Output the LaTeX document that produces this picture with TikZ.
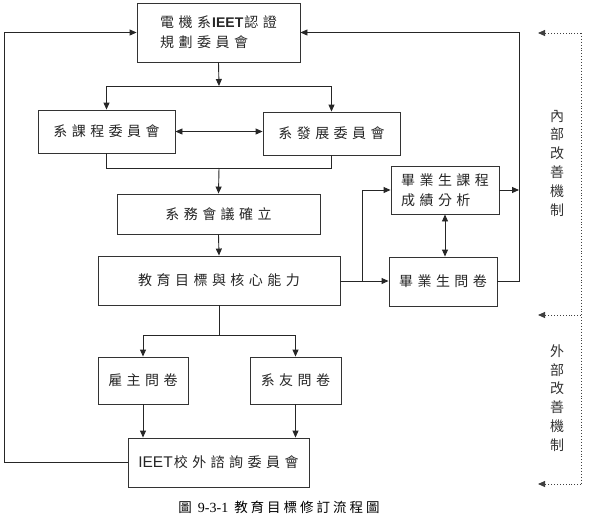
\documentclass[tikz,border=0pt]{standalone}
\usepackage{fontspec}
\setmainfont{Liberation Serif}
\setsansfont{Liberation Sans}
\newfontfamily\cjk{Noto Sans CJK TC}
\newfontfamily\cjksp[LetterSpace=32]{Noto Sans CJK TC}
\newfontfamily\cjkcap[LetterSpace=22]{Noto Sans CJK TC}
\usetikzlibrary{positioning}
\usetikzlibrary{calc}
\usetikzlibrary{arrows.meta}

\tikzset{
  box/.style={draw=black!80, line width=0.9pt, inner sep=0pt,
    font=\cjksp\fontsize{14}{20}\selectfont, text=black!85},
  link/.style={draw=black!85, line width=0.9pt},
  dotlink/.style={draw=black!75, line width=0.9pt, dotted},
  sidetext/.style={font=\cjk\fontsize{14}{18.8}\selectfont, align=center, text=black!80}
}

\begin{document}
\begin{tikzpicture}[x=1pt, y=-1pt, >={Triangle[length=7pt,width=6pt]}]
    \useasboundingbox (0,0) rectangle (590,517);

    % boxes
    \node[box, minimum width=163pt, minimum height=59pt, align=left] (plan) at (218.5,32.5)
      {電機系\kern1pt{\sffamily\bfseries\fontsize{14}{20}\selectfont IEET}\kern1pt認證\\規劃委員會};
    \node[box, minimum width=137pt, minimum height=43pt] (curric) at (106.5,131.5) {系課程委員會};
    \node[box, minimum width=137pt, minimum height=43pt] (devel) at (331.5,133.5) {系發展委員會};
    \node[box, minimum width=203pt, minimum height=40pt] (affairs) at (218.5,214) {系務會議確立};
    \node[box, minimum width=242pt, minimum height=49pt] (goals) at (219,280.5) {教育目標與核心能力};
    \node[box, minimum width=108pt, minimum height=48pt, align=left] (analysis) at (445,190)
      {畢業生課程\\成績分析};
    \node[box, minimum width=108pt, minimum height=49pt] (survey) at (443,281.5) {畢業生問卷};
    \node[box, minimum width=90pt, minimum height=47pt] (employer) at (143,380.5) {雇主問卷};
    \node[box, minimum width=91pt, minimum height=47pt] (alumni) at (295.5,380.5) {系友問卷};
    \node[box, minimum width=181pt, minimum height=49pt] (ieet) at (218.5,462.5)
      {{\sffamily\fontsize{15.5}{20}\selectfont IEET}\kern1pt校外諮詢委員會};

    % side labels
    \node[sidetext] (inner) at (557,163) {內\\部\\改\\善\\機\\制};
    \node[sidetext] (outer) at (557,398) {外\\部\\改\\善\\機\\制};
    \node[font=\cjkcap\fontsize{13.5}{16}\selectfont] (caption) at (279,507)
      {圖 {\rmfamily\fontsize{14}{16}\selectfont 9-3-1} 教育目標修訂流程圖};

    % helper points
    \coordinate (split1) at (219,86);
    \coordinate (merge1) at (219,168);
    \coordinate (split2) at (219,335);
    \coordinate (split3) at (362,281);
    \coordinate (westrail) at (4,0);
    \coordinate (eastrail) at (519,0);
    \coordinate (inTop) at (581,33);
    \coordinate (inBot) at (581,315);
    \coordinate (exBot) at (581,484);

    % connectors
    \draw[link,->] (plan.south) -- (split1);
    \draw[link,->] (split1) -| (curric.north);
    \draw[link,->] (split1) -| (devel.north);
    \draw[link,<->] (curric.east) -- (curric.east -| devel.west);
    \draw[link] (curric.south) |- (merge1);
    \draw[link] (devel.south) |- (merge1);
    \draw[link,->] (merge1) -- (affairs.north);
    \draw[link,->] (affairs.south) -- (goals.north);
    \draw[link] (goals.south) -- (split2);
    \draw[link,->] (split2) -| (employer.north);
    \draw[link,->] (split2) -| (alumni.north);
    \draw[link,->] (employer.south) -- (employer.south |- ieet.north);
    \draw[link,->] (alumni.south) -- (alumni.south |- ieet.north);
    \draw[link,->] (ieet.west) -- (ieet.west -| westrail) |- (plan.west);
    \draw[link] (goals.east |- split3) -- (split3);
    \draw[link,->] (split3) -- (split3 -| survey.west);
    \draw[link,->] (split3) |- (analysis.west);
    \draw[link,<->] (analysis.south) -- (analysis.south |- survey.north);
    \draw[link,->] (analysis.east) -- (analysis.east -| eastrail);
    \draw[link,->] (survey.east |- split3) -- (split3 -| eastrail) |- (plan.east);

    % dotted improvement loops
    \draw[dotlink] (inTop) -- (exBot);
    \draw[dotlink,->] (inTop) -- ++(-43,0);
    \draw[dotlink,->] (inBot) -- ++(-43,0);
    \draw[dotlink,->] (exBot) -- ++(-43,0);
\end{tikzpicture}
\end{document}
